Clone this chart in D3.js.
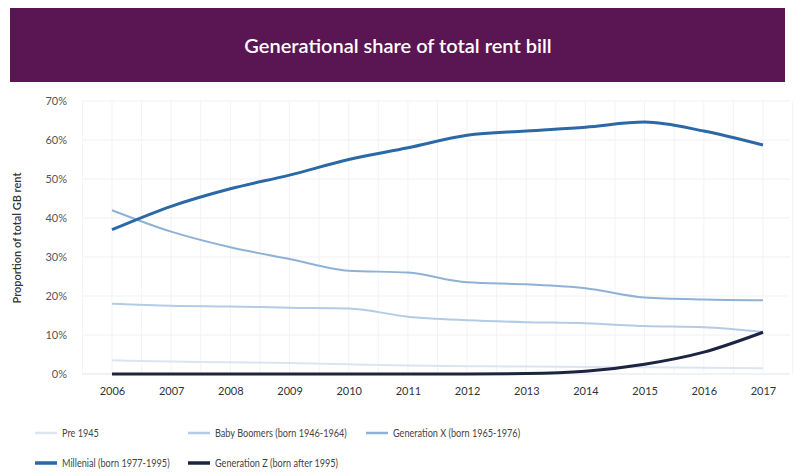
<!DOCTYPE html>
<html>
<head>
<meta charset="utf-8">
<script src="https://cdn.jsdelivr.net/npm/d3@7"></script>
<style>
  body { margin: 0; background: #fff; }
  svg { display: block; font-family: Lato, "Open Sans", sans-serif; }
</style>
</head>
<body>
<div id="chart"></div>
<script>
// data
const years = [2006, 2007, 2008, 2009, 2010, 2011, 2012, 2013, 2014, 2015, 2016, 2017];
const pre1945 = [3.5, 3.2, 3.0, 2.8, 2.5, 2.2, 2.0, 1.9, 1.8, 1.7, 1.6, 1.5];
const babyBoomers = [18, 17.5, 17.3, 17, 16.8, 14.7, 13.8, 13.3, 13, 12.3, 12, 10.8];
const genX = [42, 36.5, 32.5, 29.5, 26.5, 26, 23.5, 23, 22, 19.6, 19.1, 18.9];
const millenial = [37, 43, 47.5, 51, 55, 58, 61.2, 62.3, 63.3, 64.6, 62.3, 58.7];
const genZ = [0, 0, 0, 0, 0, 0, 0, 0.1, 0.7, 2.5, 5.6, 10.7];
const yTicks = [0, 10, 20, 30, 40, 50, 60, 70];

const seriesNames = ["Pre 1945", "Baby Boomers (born 1946-1964)", "Generation X (born 1965-1976)",
    "Millenial (born 1977-1995)", "Generation Z (born after 1995)"];
const seriesValues = [pre1945, babyBoomers, genX, millenial, genZ];
const colors = ["#dbe5f1", "#b3cbe6", "#8eb1d8", "#2b69a6", "#1c2442"];
const widths = [2, 2, 2, 3, 3];

const W = 795, H = 476;
const svg = d3.select("#chart").append("svg")
    .attr("width", W)
    .attr("height", H);

// title banner
svg.append("rect")
    .attr("x", 10).attr("y", 8)
    .attr("width", 775).attr("height", 74)
    .attr("fill", "#5a1652");
svg.append("text")
    .attr("x", 398).attr("y", 53)
    .attr("text-anchor", "middle")
    .attr("fill", "#fff")
    .attr("font-size", 20)
    .attr("font-weight", 600)
    .text("Generational share of total rent bill");

// scales
const x = d3.scalePoint()
    .domain(years)
    .range([112, 763]);
const y = d3.scaleLinear()
    .domain([0, 70])
    .range([374, 101]);

const step = x.step();
const gridLeft = 82, gridRight = 790;

// grid
const grid = svg.append("g");
grid.selectAll(".hg")
    .data(yTicks)
    .enter().append("line")
    .attr("x1", gridLeft).attr("x2", gridRight)
    .attr("y1", d => y(d)).attr("y2", d => y(d))
    .attr("stroke", d => d === 0 ? "#e2e5ea" : "#f0f1f4")
    .attr("stroke-width", 1);
const halfYears = d3.range(years[0] - 0.5, years[years.length - 1] + 0.51, 0.5);
grid.selectAll(".vg")
    .data(halfYears)
    .enter().append("line")
    .attr("x1", d => x(years[0]) + (d - years[0]) * step)
    .attr("x2", d => x(years[0]) + (d - years[0]) * step)
    .attr("y1", y(70)).attr("y2", y(0))
    .attr("stroke", "#f2f3f6")
    .attr("stroke-width", 1);

// axes
const yAxis = svg.append("g")
    .attr("transform", "translate(70,0)")
    .call(d3.axisLeft(y).tickValues(yTicks).tickFormat(d => d + "%").tickSize(0));
yAxis.select(".domain").remove();
yAxis.selectAll("text")
    .attr("fill", "#555")
    .attr("font-size", 11)
    .attr("font-family", "Lato, sans-serif");

const xAxis = svg.append("g")
    .attr("transform", "translate(0,384)")
    .call(d3.axisBottom(x).tickSize(0).tickFormat(d => d));
xAxis.select(".domain").remove();
xAxis.selectAll("text")
    .attr("fill", "#333")
    .attr("font-size", 11)
    .attr("font-family", "Lato, sans-serif");

svg.append("text")
    .attr("transform", "translate(21,238) rotate(-90)")
    .attr("text-anchor", "middle")
    .attr("fill", "#333")
    .attr("font-size", 11)
    .attr("font-weight", 600)
    .text("Proportion of total GB rent");

// lines
const line = d3.line()
    .x((d, i) => x(years[i]))
    .y(d => y(d))
    .curve(d3.curveMonotoneX);

svg.append("g").selectAll("path")
    .data(seriesValues)
    .enter().append("path")
    .attr("d", d => line(d))
    .attr("fill", "none")
    .attr("stroke", (d, i) => colors[i])
    .attr("stroke-width", (d, i) => widths[i])
    .attr("stroke-linejoin", "round");

// legend
const legendPos = [[35, 433], [188, 433], [366, 433], [35, 463], [188, 463]];
const legend = svg.append("g").selectAll("g")
    .data(seriesNames)
    .enter().append("g")
    .attr("transform", (d, i) => `translate(${legendPos[i][0]},${legendPos[i][1]})`);
legend.append("line")
    .attr("x1", 0).attr("x2", 22)
    .attr("stroke", (d, i) => colors[i])
    .attr("stroke-width", (d, i) => widths[i] + 0.5);
// the original legend font is a narrow face, so squeeze the text a bit
legend.append("text")
    .attr("transform", "translate(27,4) scale(0.83,1)")
    .attr("fill", "#444")
    .attr("font-size", 11)
    .text(d => d);
</script>
</body>
</html>
